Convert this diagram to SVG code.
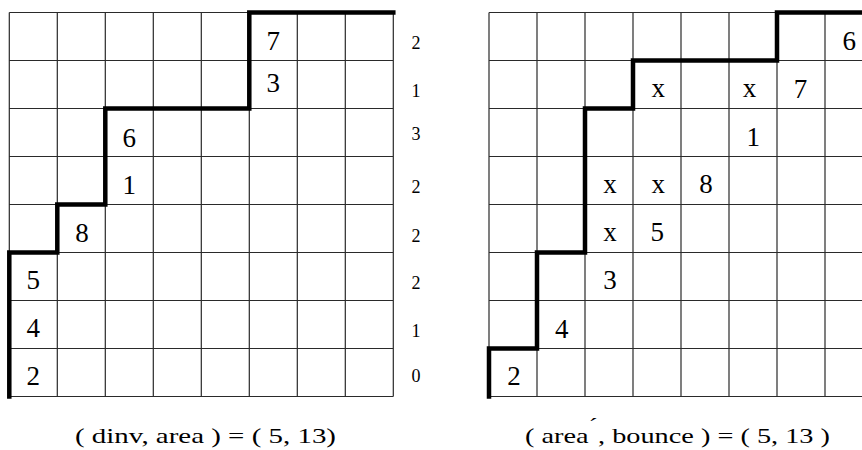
<svg xmlns="http://www.w3.org/2000/svg" width="862" height="450" viewBox="0 0 862 450">
<style>
.g{fill:none;stroke:#2a2a2a;stroke-width:1.2}
.p{fill:none;stroke:#000;stroke-width:4.5;stroke-linejoin:miter;stroke-linecap:square}
.t{font-family:"Liberation Serif","Times New Roman",serif;font-size:27px;fill:#000;text-anchor:middle}
.s{font-family:"Liberation Serif","Times New Roman",serif;font-size:18px;fill:#000;text-anchor:middle}
.c{font-family:"Liberation Serif","Times New Roman",serif;font-size:22px;fill:#000}
</style>
<g id="left-grid">
<path class="g" d="M9.3 12.5V396.5M57.3 12.5V396.5M105.3 12.5V396.5M153.3 12.5V396.5M201.3 12.5V396.5M249.3 12.5V396.5M297.3 12.5V396.5M345.3 12.5V396.5M393.3 12.5V396.5M9.3 12.5H393.3M9.3 60.5H393.3M9.3 108.5H393.3M9.3 156.5H393.3M9.3 204.5H393.3M9.3 252.5H393.3M9.3 300.5H393.3M9.3 348.5H393.3M9.3 396.5H393.3"/>
<path class="p" d="M9.3 396.5V252.5H57.3V204.5H105.3V108.5H249.3V12.5H393.3"/>
<text class="t" x="273.3" y="49.5">7</text>
<text class="t" x="273.3" y="91.7">3</text>
<text class="t" x="129.3" y="146.7">6</text>
<text class="t" x="129.3" y="194">1</text>
<text class="t" x="82" y="241.7">8</text>
<text class="t" x="33.3" y="289.3">5</text>
<text class="t" x="33.3" y="336.7">4</text>
<text class="t" x="33.3" y="385">2</text>
<text class="s" x="416" y="49.3">2</text>
<text class="s" x="416" y="97.3">1</text>
<text class="s" x="416" y="140">3</text>
<text class="s" x="416" y="193.3">2</text>
<text class="s" x="416" y="241.7">2</text>
<text class="s" x="416" y="289.3">2</text>
<text class="s" x="416" y="336.7">1</text>
<text class="s" x="416" y="381.7">0</text>
<text class="c" x="75" y="443.3" textLength="261" lengthAdjust="spacingAndGlyphs">( dinv, area ) = ( 5, 13)</text>
</g>
<g id="right-grid">
<path class="g" d="M489 12.5V396.5M537 12.5V396.5M585 12.5V396.5M633 12.5V396.5M681 12.5V396.5M729 12.5V396.5M777 12.5V396.5M825 12.5V396.5M489 12.5H870M489 60.5H870M489 108.5H870M489 156.5H870M489 204.5H870M489 252.5H870M489 300.5H870M489 348.5H870M489 396.5H870"/>
<path class="p" d="M489 396.5V348.5H537V252.5H585V108.5H633V60.5H777V12.5H870"/>
<text class="t" x="849.3" y="50">6</text>
<text class="t" x="658.3" y="97.3">x</text>
<text class="t" x="749.5" y="97.3">x</text>
<text class="t" x="800.5" y="97.5">7</text>
<text class="t" x="753.3" y="145.5">1</text>
<text class="t" x="610" y="193.3">x</text>
<text class="t" x="658.3" y="193.3">x</text>
<text class="t" x="706" y="193.3">8</text>
<text class="t" x="610" y="241">x</text>
<text class="t" x="657.3" y="241">5</text>
<text class="t" x="610" y="289.3">3</text>
<text class="t" x="561.7" y="338">4</text>
<text class="t" x="514" y="385">2</text>
<text class="c" x="525" y="443.3" textLength="305" lengthAdjust="spacingAndGlyphs">( area<tspan dy="-10">´</tspan><tspan dy="10">, bounce ) = ( 5, 13 )</tspan></text>
</g>
</svg>
